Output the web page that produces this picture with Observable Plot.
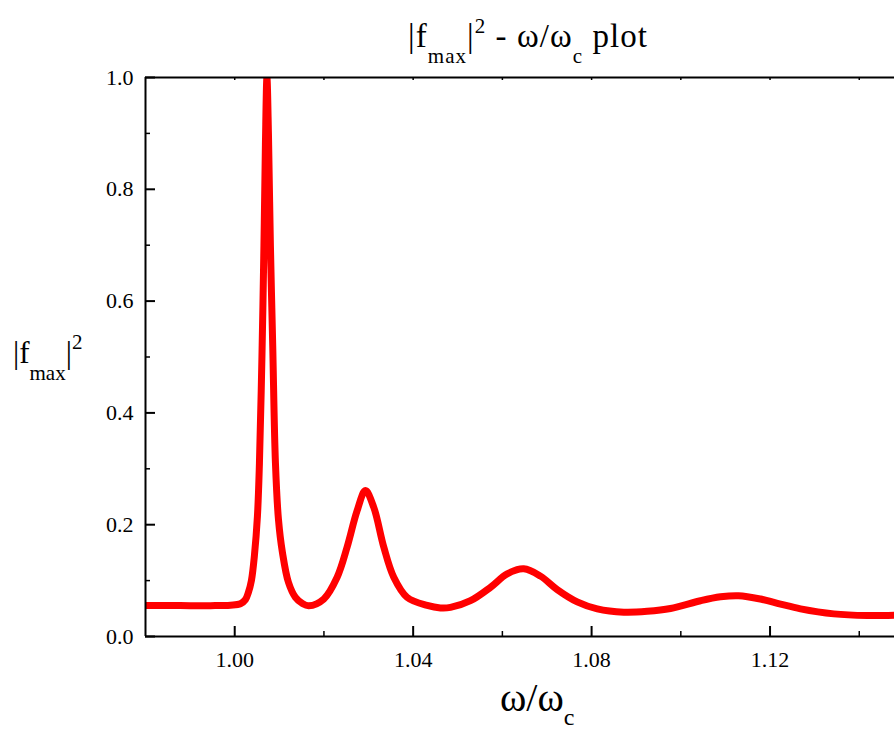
<!DOCTYPE html>
<html>
<head>
<meta charset="utf-8">
<script src="https://cdn.jsdelivr.net/npm/d3@7"></script>
<script src="https://cdn.jsdelivr.net/npm/@observablehq/plot@0.6"></script>
<style>
  html, body { margin: 0; padding: 0; background: #fff; overflow: hidden; }
  #chart svg { display: block; }
  #chart svg text { font-family: 'Liberation Serif', 'Times New Roman', serif; }
</style>
</head>
<body>
<div id="chart"></div>
<script>
// Normalised frequency ω/ωc
const omega = [
  0.980, 0.98783, 0.99455, 0.99904, 1.00128, 1.00240, 1.00307, 1.00374, 1.00442, 1.00509,
  1.00554, 1.00610, 1.00655, 1.00688, 1.00722, 1.00756, 1.00800, 1.00852, 1.00913, 1.00980,
  1.01070, 1.01204, 1.01361, 1.01518, 1.01659, 1.01996, 1.02296, 1.02520, 1.02744, 1.02930,
  1.03117, 1.03341, 1.03565, 1.03865, 1.04314, 1.04612, 1.04836, 1.05285, 1.05733, 1.06108,
  1.06480, 1.06854, 1.07229, 1.07677, 1.08126, 1.08722, 1.09247, 1.09769, 1.10442, 1.10890,
  1.11294, 1.11787, 1.12235, 1.12684, 1.13430, 1.14179, 1.14791
];
// |f_max|^2 at each frequency
const fmax2 = [
  0.0555, 0.0553, 0.0552, 0.0560, 0.0585, 0.066, 0.079, 0.100, 0.145, 0.215,
  0.310, 0.500, 0.700, 0.880, 1.000, 0.900, 0.700, 0.520, 0.310, 0.210,
  0.150, 0.097, 0.070, 0.059, 0.055, 0.067, 0.106, 0.160, 0.225, 0.261,
  0.231, 0.160, 0.106, 0.070, 0.0555, 0.051, 0.052, 0.064, 0.088, 0.112,
  0.121, 0.108, 0.084, 0.062, 0.0495, 0.0435, 0.045, 0.050, 0.064, 0.071,
  0.073, 0.067, 0.058, 0.0495, 0.0405, 0.0375, 0.038
];

// Tick positions
const xMajor = [1.00, 1.04, 1.08, 1.12];
const xMinor = [1.02, 1.06, 1.10, 1.14];
const xTop = [1.00, 1.02, 1.04, 1.06, 1.08, 1.10, 1.12, 1.14];
const yMajor = [0.0, 0.2, 0.4, 0.6, 0.8, 1.0];
const yMinor = [0.1, 0.3, 0.5, 0.7, 0.9];

const xDomain = [0.98, 1.1479];
const yDomain = [0, 1];

const data = omega.map((w, i) => ({w, f: fmax2[i]}));

const W = 894, H = 729;
const mTop = 77, mBottom = 93, mLeft = 145, mRight = 0;
const frameH = H - mTop - mBottom;
const frameW = W - mLeft - mRight;
const font = "'Liberation Serif', 'Times New Roman', serif";

const chart = Plot.plot({
  width: W,
  height: H,
  marginTop: mTop,
  marginBottom: mBottom,
  marginLeft: mLeft,
  marginRight: mRight,
  style: {fontFamily: font, fontSize: "22px", color: "black", background: "white"},
  x: {domain: xDomain},
  y: {domain: yDomain},
  marks: [
    // curve
    Plot.line(data, {x: "w", y: "f", stroke: "#ff0000", strokeWidth: 7,
      curve: "catmull-rom", strokeLinejoin: "round", strokeLinecap: "butt", clip: true}),
    // axis lines (left, bottom, top)
    Plot.ruleY([yDomain[0], yDomain[1]], {stroke: "black", strokeWidth: 2}),
    Plot.ruleX([xDomain[0]], {stroke: "black", strokeWidth: 2}),
    // inward ticks on the bottom axis
    Plot.tickX(xMajor, {x: d => d, insetTop: frameH - 10, stroke: "black", strokeWidth: 2}),
    Plot.tickX(xMinor, {x: d => d, insetTop: frameH - 5, stroke: "black", strokeWidth: 1.5}),
    // small ticks along the top edge
    Plot.tickX(xTop, {x: d => d, insetBottom: frameH - 3, stroke: "black", strokeWidth: 1.5}),
    // inward ticks on the left axis
    Plot.tickY(yMajor, {y: d => d, insetRight: frameW - 10, stroke: "black", strokeWidth: 2}),
    Plot.tickY(yMinor, {y: d => d, insetRight: frameW - 5, stroke: "black", strokeWidth: 1.5}),
    // tick labels
    Plot.axisX({ticks: xMajor, tickFormat: d3.format(".2f"), tickSize: 0, tickPadding: 15, label: null}),
    Plot.axisY({ticks: yMajor, tickFormat: d3.format(".1f"), tickSize: 0, tickPadding: 12, label: null})
  ]
});

document.getElementById("chart").appendChild(chart);

const svg = d3.select(chart);

// serif tick labels at full size
svg.selectAll("text")
  .style("font-family", font)
  .style("font-size", "22px");

// Title and axis titles with sub/superscripts
function richText(x, y, size, parts, length) {
  const t = svg.append("text")
    .attr("x", x).attr("y", y)
    .attr("font-family", font)
    .attr("fill", "black")
    .attr("text-anchor", "start")
    .style("font-size", size + "px");
  if (length) t.attr("textLength", length).attr("lengthAdjust", "spacing");
  parts.forEach(p => {
    t.append("tspan")
      .attr("dy", p.dy || 0)
      .style("font-size", (p.size || size) + "px")
      .text(p.text);
  });
  return t;
}

// title: |f_max|^2 - ω/ω_c plot
richText(408, 47, 33, [
  {text: "|f"},
  {text: "max", size: 21, dy: 16},
  {text: "|", dy: -16},
  {text: "2", size: 21, dy: -14},
  {text: " - ω/ω", dy: 14},
  {text: "c", size: 21, dy: 16},
  {text: " plot", dy: -16}
], 239);

// y-axis title: |f_max|^2
richText(13, 363, 31, [
  {text: "|f"},
  {text: "max", size: 21, dy: 17},
  {text: "|", dy: -17},
  {text: "2", size: 21, dy: -14}
]);

// x-axis title: ω/ω_c
richText(500, 711, 40, [
  {text: "ω/ω"},
  {text: "c", size: 24, dy: 14}
]);
</script>
</body>
</html>
